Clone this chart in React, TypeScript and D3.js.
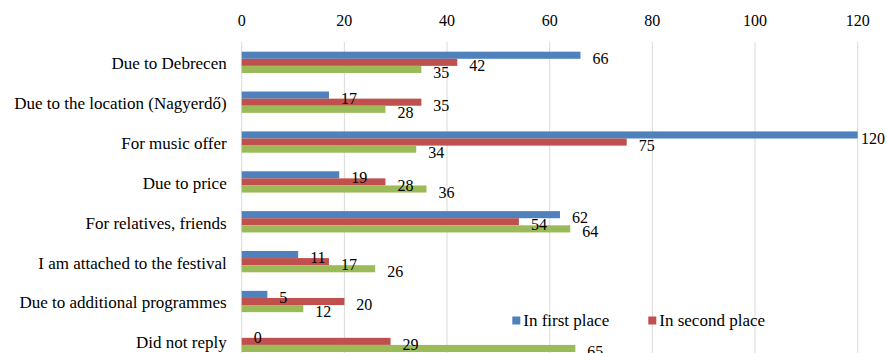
import React, { useRef, useEffect } from 'react';
import * as d3 from 'd3';

const categories = [
  "Due to Debrecen",
  "Due to the location (Nagyerdő)",
  "For music offer",
  "Due to price",
  "For relatives, friends",
  "I am attached to the festival",
  "Due to additional programmes",
  "Did not reply",
];
const firstPlace = [66, 17, 120, 19, 62, 11, 5, 0];
const secondPlace = [42, 35, 75, 28, 54, 17, 20, 29];
const thirdPlace = [35, 28, 34, 36, 64, 26, 12, 65];
const seriesNames = ["In first place", "In second place", "In third place"];
const seriesColors = ["#4F81BD", "#C0504D", "#9BBB59"];
const xTicks = [0, 20, 40, 60, 80, 100, 120];

const FONT = "Tinos, 'Liberation Serif', 'Noto Serif', 'DejaVu Serif', FreeSerif, 'Times New Roman', Times, serif";

const App = () => {
  const svgRef = useRef<SVGSVGElement | null>(null);

  useEffect(() => {
    const svg = d3.select(svgRef.current);
    svg.selectAll("*").remove();

    const width = 887;

    const x = d3.scaleLinear().domain([0, 120]).range([241.7, 857.7]);
    const y = d3.scaleBand<string>()
      .domain(categories)
      .range([42.4, 361.3])
      .paddingInner(0.4656)
      .paddingOuter(0.2328);
    const sub = d3.scaleBand<number>()
      .domain([0, 1, 2])
      .range([0, y.bandwidth()]);

    // gridlines
    svg.append("g")
      .selectAll("line")
      .data(xTicks)
      .enter().append("line")
      .attr("x1", d => x(d))
      .attr("x2", d => x(d))
      .attr("y1", 42)
      .attr("y2", 361)
      .attr("stroke", "#D9D9D9")
      .attr("stroke-width", 1);

    // top tick labels
    svg.append("g")
      .selectAll("text")
      .data(xTicks)
      .enter().append("text")
      .attr("x", d => x(d))
      .attr("y", 20.7)
      .attr("dy", "0.35em")
      .attr("text-anchor", "middle")
      .attr("font-family", FONT)
      .attr("font-size", 16)
      .attr("fill", "#000")
      .text(d => d);

    // category labels
    svg.append("g")
      .selectAll("text")
      .data(categories)
      .enter().append("text")
      .attr("x", 226.7)
      .attr("y", d => (y(d) as number) + y.bandwidth() / 2 + 1)
      .attr("dy", "0.35em")
      .attr("text-anchor", "end")
      .attr("font-family", FONT)
      .attr("font-size", 17)
      .attr("fill", "#000")
      .text(d => d);

    const series = [firstPlace, secondPlace, thirdPlace];
    const rows = series.flatMap((vals, s) =>
      vals.map((v, i) => ({ s, v, cat: categories[i] }))
    );

    // bars
    svg.append("g")
      .selectAll("rect")
      .data(rows)
      .enter().append("rect")
      .attr("x", x(0))
      .attr("y", d => (y(d.cat) as number) + (sub(d.s) as number))
      .attr("width", d => x(d.v) - x(0))
      .attr("height", sub.bandwidth())
      .attr("fill", d => seriesColors[d.s]);

    // value labels
    const labels = svg.append("g")
      .selectAll("text")
      .data(rows)
      .enter().append("text")
      .attr("x", d => x(d.v) + 12)
      .attr("y", d => (y(d.cat) as number) + (sub(d.s) as number) + sub.bandwidth() / 2 + 3)
      .attr("dy", "0.35em")
      .attr("font-family", FONT)
      .attr("font-size", 16)
      .attr("fill", "#000")
      .text(d => d.v);

    // keep labels inside the chart area
    labels.each(function () {
      const el = this as SVGTextElement;
      const w = el.getComputedTextLength();
      const lx = +el.getAttribute("x")!;
      if (lx + w > width - 2) el.setAttribute("x", String(width - 2 - w));
    });

    // legend (third entry falls below the visible area)
    const legendX = [512.3, 648.3];
    const legend = svg.append("g")
      .selectAll("g")
      .data(seriesNames.slice(0, 2))
      .enter().append("g")
      .attr("transform", (d, i) => `translate(${legendX[i]},320.5)`);
    legend.append("rect")
      .attr("x", 0)
      .attr("y", -4)
      .attr("width", 8)
      .attr("height", 8)
      .attr("fill", (d, i) => seriesColors[i]);
    legend.append("text")
      .attr("x", 11)
      .attr("y", 0)
      .attr("dy", "0.35em")
      .attr("font-family", FONT)
      .attr("font-size", 17)
      .attr("fill", "#000")
      .text(d => d);
  }, []);

  return (
    <svg
      ref={svgRef}
      width={887}
      height={353}
      style={{ position: 'absolute', left: 0, top: 0, background: '#fff', display: 'block' }}
    ></svg>
  );
};

export default App;
